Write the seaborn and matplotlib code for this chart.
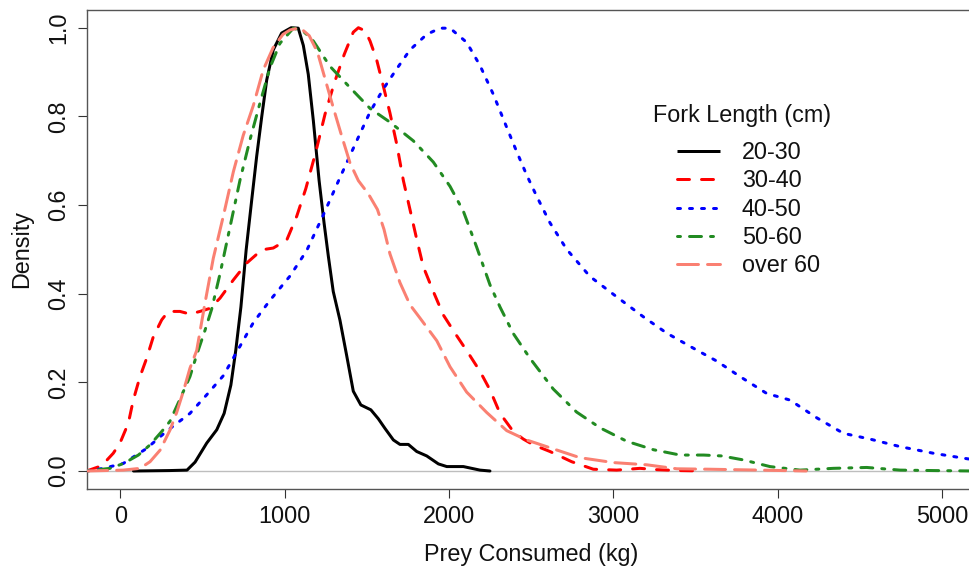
import numpy as np
import pandas as pd
import matplotlib
matplotlib.use("Agg")
import matplotlib.pyplot as plt
from matplotlib.lines import Line2D
import seaborn as sns

# ---------------- data ----------------
groups = ["20-30", "30-40", "40-50", "50-60", "over 60"]
colors = ["#000000", "#FF0000", "#0000FF", "#228B22", "#FA8072"]
dash_patterns = ["", (4, 4), (1, 3), (1, 3, 4, 3), (7, 3)]

x_20_30 = [80, 300, 406, 455, 526, 587, 632, 673, 703, 734, 766, 800, 830, 861, 891,
           931, 982, 1040, 1083, 1114, 1144, 1175, 1210, 1240, 1266, 1296, 1337, 1378,
           1418, 1464, 1525, 1570, 1611, 1662, 1702, 1753, 1804, 1865, 1936, 1987,
           2088, 2189, 2250]
y_20_30 = [0.0, 0.001, 0.002, 0.020, 0.063, 0.093, 0.130, 0.194, 0.273, 0.370, 0.499,
           0.612, 0.710, 0.800, 0.882, 0.950, 0.988, 1.0, 0.999, 0.960, 0.895, 0.790,
           0.655, 0.560, 0.485, 0.405, 0.340, 0.260, 0.180, 0.149, 0.138, 0.118,
           0.096, 0.070, 0.060, 0.060, 0.044, 0.034, 0.016, 0.010, 0.010, 0.002, 0.0]

x_30_40 = [-205, -113, -43, -2, 49, 79, 120, 161, 201, 252, 292, 363, 424, 485, 546,
           607, 688, 769, 861, 931, 1013, 1074, 1129, 1190, 1246, 1302, 1363, 1418,
           1449, 1490, 1520, 1560, 1601, 1641, 1682, 1723, 1763, 1804, 1844, 1905,
           1966, 2037, 2118, 2189, 2250, 2311, 2392, 2453, 2514, 2615, 2747, 2879,
           3021, 3163, 3265, 3400, 3550]
y_30_40 = [0.0, 0.012, 0.040, 0.063, 0.108, 0.160, 0.213, 0.255, 0.303, 0.341, 0.360,
           0.360, 0.354, 0.360, 0.367, 0.390, 0.431, 0.469, 0.499, 0.503, 0.521,
           0.575, 0.637, 0.720, 0.805, 0.875, 0.940, 0.990, 1.0, 0.993, 0.970, 0.928,
           0.868, 0.808, 0.738, 0.655, 0.590, 0.523, 0.461, 0.405, 0.352, 0.311,
           0.266, 0.225, 0.183, 0.130, 0.089, 0.072, 0.059, 0.044, 0.021, 0.004,
           0.002, 0.006, 0.003, 0.001, 0.0]

x_40_50 = [-205, -103, 18, 161, 282, 424, 526, 627, 708, 810, 911, 1033, 1134, 1236,
           1337, 1439, 1520, 1601, 1682, 1763, 1865, 1946, 2007, 2108, 2189, 2270,
           2352, 2413, 2473, 2534, 2615, 2717, 2858, 3021, 3183, 3326, 3488, 3630,
           3772, 3934, 4076, 4239, 4401, 4563, 4746, 4949, 5131, 5200]
y_40_50 = [0.0, 0.006, 0.017, 0.051, 0.090, 0.130, 0.172, 0.215, 0.268, 0.335, 0.385,
           0.440, 0.497, 0.578, 0.662, 0.745, 0.810, 0.862, 0.907, 0.950, 0.985,
           0.999, 0.999, 0.967, 0.915, 0.850, 0.775, 0.720, 0.668, 0.620, 0.560,
           0.500, 0.439, 0.393, 0.348, 0.311, 0.277, 0.248, 0.213, 0.175, 0.160,
           0.120, 0.085, 0.072, 0.055, 0.040, 0.029, 0.025]

x_50_60 = [-205, -63, 20, 110, 181, 252, 302, 363, 424, 465, 516, 556, 607, 668, 729,
           789, 850, 911, 972, 1053, 1114, 1175, 1276, 1398, 1520, 1641, 1783, 1905,
           2007, 2088, 2169, 2250, 2311, 2392, 2494, 2635, 2777, 2922, 3083, 3245,
           3407, 3550, 3660, 3792, 3954, 4137, 4340, 4543, 4746, 4949, 5200]
y_50_60 = [0.0, 0.006, 0.017, 0.036, 0.059, 0.089, 0.112, 0.162, 0.213, 0.262, 0.318,
           0.365, 0.445, 0.551, 0.657, 0.747, 0.830, 0.910, 0.965, 0.999, 0.992,
           0.970, 0.913, 0.865, 0.818, 0.787, 0.745, 0.697, 0.642, 0.586, 0.505,
           0.420, 0.370, 0.310, 0.254, 0.185, 0.133, 0.097, 0.067, 0.048, 0.036,
           0.036, 0.034, 0.025, 0.010, 0.002, 0.006, 0.008, 0.002, 0.001, 0.0]

x_over_60 = [-205, 18, 120, 181, 242, 302, 343, 384, 424, 465, 516, 566, 627, 688, 748,
             810, 870, 930, 990, 1033, 1094, 1150, 1200, 1246, 1296, 1348, 1398, 1449,
             1510, 1565, 1605, 1641, 1702, 1763, 1824, 1926, 2007, 2108, 2230, 2352,
             2473, 2635, 2798, 3001, 3204, 3387, 3589, 3893, 4175]
y_over_60 = [0.0, 0.002, 0.006, 0.021, 0.047, 0.092, 0.132, 0.180, 0.232, 0.272, 0.380,
             0.480, 0.575, 0.675, 0.757, 0.825, 0.905, 0.955, 0.985, 0.995, 1.0, 0.982,
             0.945, 0.885, 0.820, 0.755, 0.695, 0.655, 0.625, 0.590, 0.545, 0.490,
             0.425, 0.375, 0.345, 0.294, 0.235, 0.178, 0.132, 0.091, 0.070, 0.050,
             0.030, 0.019, 0.014, 0.005, 0.004, 0.002, 0.0]

x_ticks = [0, 1000, 2000, 3000, 4000, 5000]
y_ticks = [0.0, 0.2, 0.4, 0.6, 0.8, 1.0]
y_tick_labels = ["0.0", "0.2", "0.4", "0.6", "0.8", "1.0"]
x_label = "Prey Consumed (kg)"
y_label = "Density"
legend_title = "Fork Length (cm)"

series_x = [x_20_30, x_30_40, x_40_50, x_50_60, x_over_60]
series_y = [y_20_30, y_30_40, y_40_50, y_50_60, y_over_60]

frames = []
for g, xs, ys in zip(groups, series_x, series_y):
    frames.append(pd.DataFrame({"prey": xs, "density": ys, "group": g}))
df = pd.concat(frames, ignore_index=True)

# ---------------- figure ----------------
sns.set_style("white")
plt.rcParams['font.family'] = ['Liberation Sans', 'DejaVu Sans']

W, H = 969, 569
fig = plt.figure(figsize=(W / 100, H / 100), dpi=100)
left_px, right_px, top_px, bottom_px = 87.3, 975.0, 10.0, 489.0
ax = fig.add_axes([left_px / W, (H - bottom_px) / H,
                   (right_px - left_px) / W, (bottom_px - top_px) / H])

ax.axhline(0, color="#bebebe", lw=1.0, zorder=1)

LW = 2.16
palette = dict(zip(groups, colors))
dashes = dict(zip(groups, dash_patterns))
sns.lineplot(data=df, x="prey", y="density", hue="group", style="group",
             hue_order=groups, style_order=groups, palette=palette, dashes=dashes,
             sort=False, estimator=None, linewidth=LW, legend=False, ax=ax,
             dash_capstyle="round", solid_capstyle="round", zorder=3)

ax.set_xlim(-200.9, 5202)
ax.set_ylim(-0.0406, 1.04)

FS = 16.8
ax.set_xticks(x_ticks)
ax.set_xticklabels([str(v) for v in x_ticks])
ax.set_yticks(y_ticks)
ax.set_yticklabels(y_tick_labels, rotation=90, va="center")
ax.tick_params(axis="both", which="major", direction="out", length=6.5, width=0.8,
               color="#333333", labelsize=FS, labelcolor="#111111",
               bottom=True, left=True)
ax.tick_params(axis="x", pad=5)
ax.tick_params(axis="y", pad=6)
ax.set_xlabel(x_label, fontsize=FS, color="#111111", labelpad=11)
ax.set_ylabel(y_label, fontsize=FS, color="#111111", labelpad=10)

for side in ["left", "bottom", "top"]:
    ax.spines[side].set_visible(True)
    ax.spines[side].set_color("#555555")
    ax.spines[side].set_linewidth(1.0)
ax.spines["right"].set_visible(False)

handles = []
for g, c, d in zip(groups, colors, dash_patterns):
    h = Line2D([0], [0], color=c, lw=LW, dash_capstyle="round",
               solid_capstyle="butt")
    if d != "":
        h.set_dashes(d)
    handles.append(h)

leg = ax.legend(handles, groups, frameon=False,
                loc="upper left", bbox_to_anchor=(676.5 / W, (H - 141) / H),
                bbox_transform=fig.transFigure, fontsize=FS,
                handlelength=1.85, handletextpad=0.95, labelspacing=0.23,
                borderpad=0, borderaxespad=0)
for t in leg.get_texts():
    t.set_color("#111111")
fig.text(742.5 / W, 1 - 115.5 / H, legend_title, ha="center", va="center",
         fontsize=FS, color="#111111")

fig.savefig("out.png", dpi=100)
